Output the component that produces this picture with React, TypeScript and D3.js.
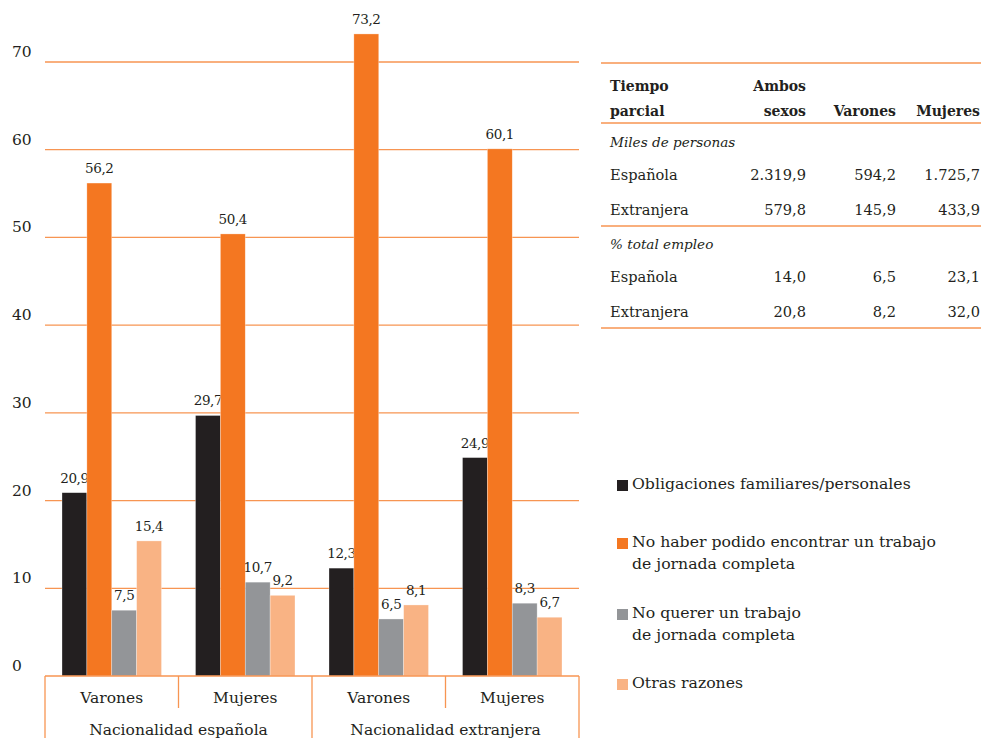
import React from "react";
import * as d3 from "d3";

const nationalities = ["Nacionalidad española", "Nacionalidad extranjera"];
const sexes = ["Varones", "Mujeres"];
const seriesNames = [
  "Obligaciones familiares/personales",
  "No haber podido encontrar un trabajo de jornada completa",
  "No querer un trabajo de jornada completa",
  "Otras razones",
];
const legendLines = [
  ["Obligaciones familiares/personales"],
  ["No haber podido encontrar un trabajo", "de jornada completa"],
  ["No querer un trabajo", "de jornada completa"],
  ["Otras razones"],
];
// values per group: [Esp-Varones, Esp-Mujeres, Ext-Varones, Ext-Mujeres]
const obligaciones = [20.9, 29.7, 12.3, 24.9];
const noEncontrar = [56.2, 50.4, 73.2, 60.1];
const noQuerer = [7.5, 10.7, 6.5, 8.3];
const otras = [15.4, 9.2, 8.1, 6.7];
const yTicks = [0, 10, 20, 30, 40, 50, 60, 70];

const tableCols = ["Ambos sexos", "Varones", "Mujeres"];
const milesEspanola = ["2.319,9", "594,2", "1.725,7"];
const milesExtranjera = ["579,8", "145,9", "433,9"];
const pctEspanola = ["14,0", "6,5", "23,1"];
const pctExtranjera = ["20,8", "8,2", "32,0"];

const colors = ["#231f20", "#f47721", "#939598", "#f9b384"];
const FONT = "DejaVu Serif";
const TXT = "#231f20";
const GRID = "#f79552";

export default function App() {
  const W = 981, H = 738;
  const left = 45, right = 579;
  const groups = [0, 1, 2, 3];
  const x0 = d3.scaleBand<number>().domain(groups).range([left, right]).padding(0);
  const gw = x0.bandwidth();
  const x1 = d3.scaleBand<number>().domain([0, 1, 2, 3]).range([17, gw - 17]).padding(0);
  const y = d3.scaleLinear().domain([0, 70]).range([676, 62]);
  const series = [obligaciones, noEncontrar, noQuerer, otras];
  const fmt = (v: number) => v.toFixed(1).replace(".", ",");

  const tableRows: { label: string; vals?: string[]; italic?: boolean; y: number }[] = [
    { label: "Miles de personas", italic: true, y: 147 },
    { label: "Española", vals: milesEspanola, y: 180 },
    { label: "Extranjera", vals: milesExtranjera, y: 215 },
    { label: "% total empleo", italic: true, y: 249 },
    { label: "Española", vals: pctEspanola, y: 282 },
    { label: "Extranjera", vals: pctExtranjera, y: 317 },
  ];
  const colRight = [806, 896, 980];
  const legendY = [489, 547, 618, 688];
  const fs = 15.5;
  const tfs = 14.6;
  const bfs = 14;

  return (
    <svg width={W} height={H} style={{ position: "absolute", left: 0, top: 0, background: "#fff", fontFamily: FONT }}>
      {/* gridlines */}
      {yTicks.filter((t) => t > 0).map((t) => (
        <line key={t} x1={left} x2={right} y1={y(t)} y2={y(t)} stroke={GRID} strokeWidth={1.3} />
      ))}
      {yTicks.map((t) => (
        <text key={"t" + t} x={12} y={y(t) - 5} fontSize={15.5} fill={TXT}>{t}</text>
      ))}
      {/* bars */}
      {groups.map((g) => (
        <g key={g} transform={`translate(${x0(g)},0)`}>
          {series.map((s, i) => (
            <g key={i}>
              <rect x={x1(i)} y={y(s[g])} width={x1.bandwidth()} height={y(0) - y(s[g])} fill={colors[i]} stroke="#fff" strokeOpacity={0.5} strokeWidth={0.6} />
              <text x={(x1(i) as number) + x1.bandwidth() / 2} y={y(s[g]) - 10} textAnchor="middle" fontSize={13.5} letterSpacing={-0.4} fill={TXT}>{fmt(s[g])}</text>
            </g>
          ))}
        </g>
      ))}
      {/* category axis boxes */}
      <line x1={left} x2={right} y1={676} y2={676} stroke={GRID} strokeWidth={1.3} />
      {[0, 1, 2, 3, 4].map((i) => {
        const xx = left + i * gw;
        const full = i % 2 === 0;
        return <line key={i} x1={xx} x2={xx} y1={676} y2={full ? H : 708} stroke={GRID} strokeWidth={1.3} />;
      })}
      {groups.map((g) => (
        <text key={"s" + g} x={(x0(g) as number) + gw / 2} y={703} textAnchor="middle" fontSize={fs} fill={TXT}>{sexes[g % 2]}</text>
      ))}
      {nationalities.map((n, i) => (
        <text key={n} x={left + gw * (2 * i + 1)} y={735} textAnchor="middle" fontSize={fs} fill={TXT}>{n}</text>
      ))}
      {/* table */}
      <line x1={601} x2={981} y1={63} y2={63} stroke={GRID} strokeWidth={1.5} />
      <line x1={601} x2={981} y1={123} y2={123} stroke={GRID} strokeWidth={1.5} />
      <line x1={601} x2={981} y1={226} y2={226} stroke={GRID} strokeWidth={1.5} />
      <line x1={601} x2={981} y1={328} y2={328} stroke={GRID} strokeWidth={1.5} />
      <text x={610} y={91} fontSize={bfs} fontWeight="bold" fill={TXT}>Tiempo</text>
      <text x={610} y={116} fontSize={bfs} fontWeight="bold" fill={TXT}>parcial</text>
      <text x={colRight[0]} y={91} fontSize={bfs} fontWeight="bold" textAnchor="end" fill={TXT}>Ambos</text>
      <text x={colRight[0]} y={116} fontSize={bfs} fontWeight="bold" textAnchor="end" fill={TXT}>sexos</text>
      <text x={colRight[1]} y={116} fontSize={bfs} fontWeight="bold" textAnchor="end" fill={TXT}>{tableCols[1]}</text>
      <text x={colRight[2]} y={116} fontSize={bfs} fontWeight="bold" textAnchor="end" fill={TXT}>{tableCols[2]}</text>
      {tableRows.map((r, i) => (
        <g key={i}>
          <text x={610} y={r.y} fontSize={r.italic ? 13.6 : tfs} fontStyle={r.italic ? "italic" : "normal"} fill={TXT}>{r.label}</text>
          {r.vals && r.vals.map((v, j) => (
            <text key={j} x={colRight[j]} y={r.y} fontSize={tfs} textAnchor="end" fill={TXT}>{v}</text>
          ))}
        </g>
      ))}
      {/* legend */}
      {seriesNames.map((name, i) => (
        <g key={name}>
          <rect x={617} y={legendY[i] - 9} width={11} height={11} fill={colors[i]} />
          {legendLines[i].map((ln, k) => (
            <text key={k} x={632} y={legendY[i] + k * 21.5} fontSize={15.7} fill={TXT}>{ln}</text>
          ))}
        </g>
      ))}
    </svg>
  );
}
